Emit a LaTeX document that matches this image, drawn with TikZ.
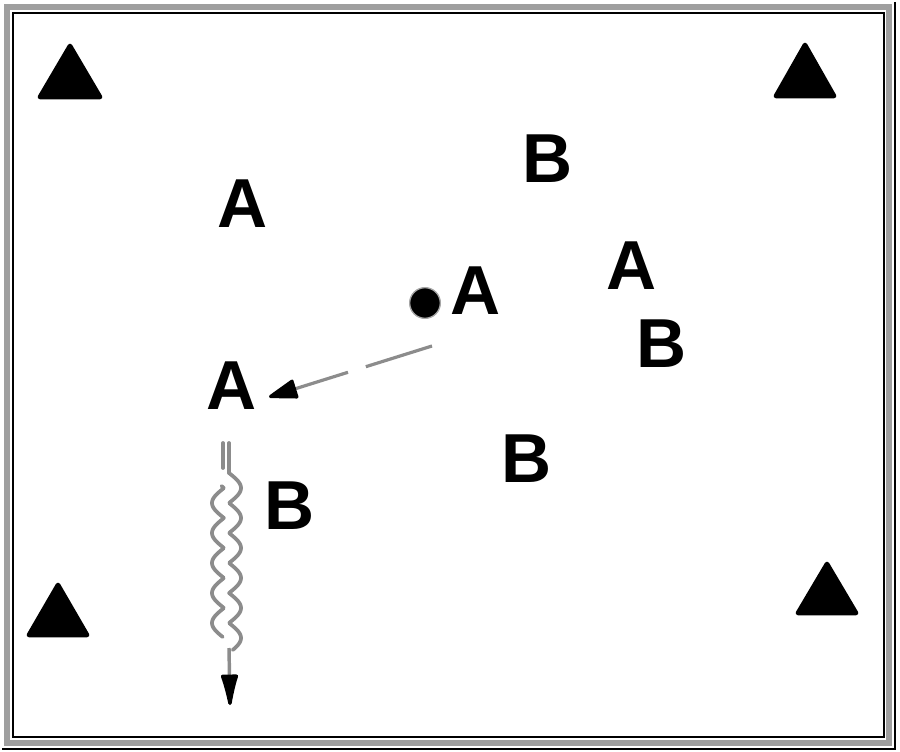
\documentclass[tikz,border=0pt]{standalone}
\usepackage{fontspec}
\setmainfont{Liberation Sans}
\usetikzlibrary{arrows.meta}
\begin{document}
\begin{tikzpicture}[x=0.75pt,y=-0.75pt,
  letter/.style={inner sep=0pt,font=\fontsize{52}{52}\selectfont\bfseries},
  cone/.style={fill=black,draw=black,line width=3.5pt,line join=round},
  rope/.style={draw=gray!90,line width=2.8pt,line cap=round,line join=round}]
\useasboundingbox (0,0) rectangle (900,752);
% frame
\draw[gray!75,line width=4.5pt] (6.5,7) rectangle (888.5,743);
\draw[black,line width=1.1pt] (13,13) rectangle (884,737);
\draw[black,line width=1pt] (895,2) -- (895,749) -- (2,749);
% cones
\path[cone] (70,46) -- (100,97) -- (40,97) -- cycle;
\path[cone] (805,45) -- (834,96) -- (776,96) -- cycle;
\path[cone] (58,585) -- (87,635) -- (29,635) -- cycle;
\path[cone] (827,564) -- (856,613) -- (798,613) -- cycle;
% letters
\node[letter] (a1) at (243,204) {A};
\node[letter] (b1) at (548,159) {B};
\node[letter] (a2) at (476,291) {A};
\node[letter] (a3) at (632,266) {A};
\node[letter] (b2) at (662,344) {B};
\node[letter] (a4) at (232,386) {A};
\node[letter] (b3) at (527,459) {B};
\node[letter] (b4) at (290,506) {B};
% ball
\node[circle,fill=black,draw=gray!70,line width=1pt,inner sep=0pt,minimum size=23pt] (ball) at (425,303) {};
% pass
\coordinate (ps) at (432,346);
\coordinate (pe) at (269,397);
\draw[gray!90,line width=2.4pt,dash pattern=on 52pt off 14pt on 300pt,
  -{Triangle[color=black,length=24pt,width=15pt,round]}] (ps) -- (pe);
% dribble
\coordinate (ds) at (229,443);
\coordinate (de) at (230,705);
\draw[rope] (ds) -- (229,473);
\draw[rope] (223,443) -- (223,468);
\draw[rope] plot[domain=473:650,samples=200,variable=\t] ({229+12*abs(sin(6*(\t-473)))},\t);
\draw[rope] plot[domain=486:637,samples=200,variable=\t] ({224-12*abs(sin(6*(\t-488)))},\t);
\draw[gray!90,line width=2.6pt,-{Latex[color=black,length=30pt,width=14pt,round]}] (229,648) -- (de);
\end{tikzpicture}
\end{document}
